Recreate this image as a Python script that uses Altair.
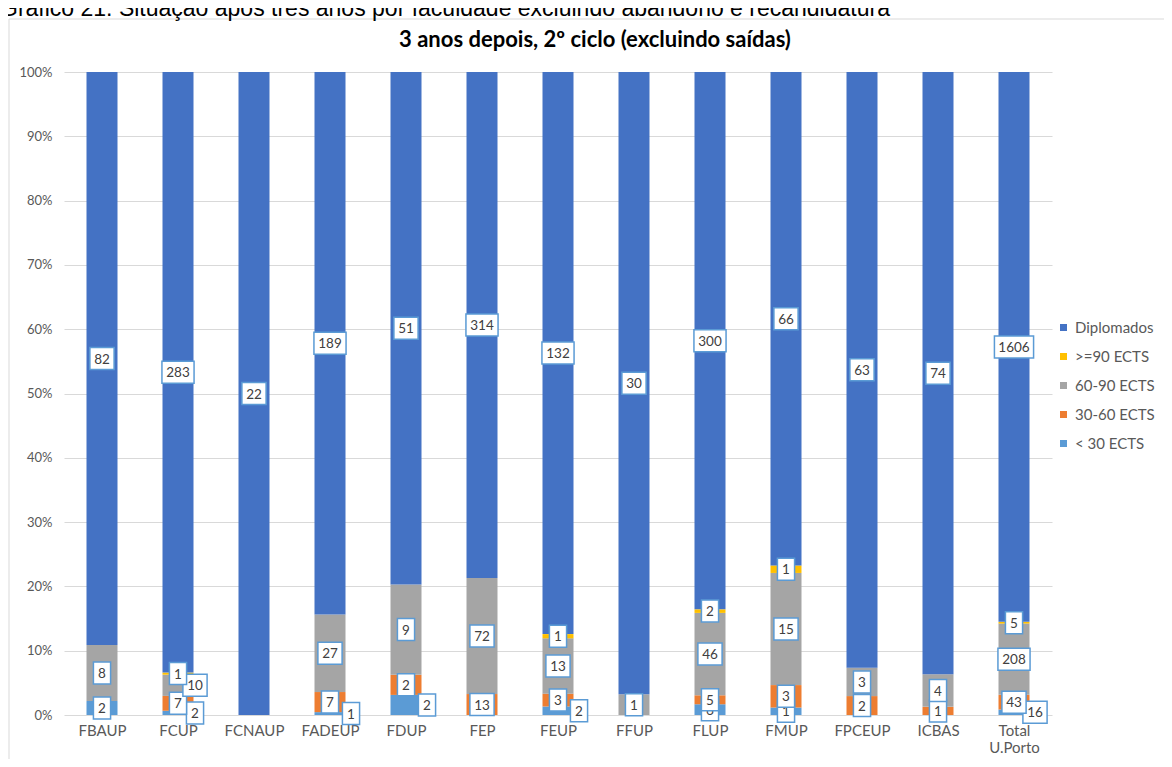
import altair as alt
import pandas as pd

# ---- data ----
faculties = ["FBAUP", "FCUP", "FCNAUP", "FADEUP", "FDUP", "FEP", "FEUP",
             "FFUP", "FLUP", "FMUP", "FPCEUP", "ICBAS", "Total U.Porto"]
diplomados = [82, 283, 22, 189, 51, 314, 132, 30, 300, 66, 63, 74, 1606]
ects_90_plus = [0, 1, 0, 0, 0, 0, 1, 0, 2, 1, 0, 0, 5]
ects_60_90 = [8, 10, 0, 27, 9, 72, 13, 1, 46, 15, 3, 4, 208]
ects_30_60 = [0, 7, 0, 7, 2, 13, 3, 0, 5, 3, 2, 1, 43]
ects_lt_30 = [2, 2, 0, 1, 2, 0, 2, 0, 6, 1, 0, 0, 16]

# stacking order bottom -> top
series_names = ["< 30 ECTS", "30-60 ECTS", "60-90 ECTS", ">=90 ECTS", "Diplomados"]
series_values = [ects_lt_30, ects_30_60, ects_60_90, ects_90_plus, diplomados]
series_colors = ["#5B9BD5", "#ED7D31", "#A5A5A5", "#FFC000", "#4472C4"]

outer_title = "Gráfico 21: Situação após três anos por faculdade excluindo abandono e recandidatura"
chart_title = "3 anos depois, 2º ciclo (excluindo saídas)"

# labels that Excel pushed sideways (pixels to the right)
label_nudges = {("FCUP", "60-90 ECTS"): 17, ("FCUP", "< 30 ECTS"): 17,
                ("FADEUP", "< 30 ECTS"): 21, ("FDUP", "< 30 ECTS"): 21,
                ("FEUP", "< 30 ECTS"): 21, ("Total U.Porto", "< 30 ECTS"): 21}

rows = []
for k, (name, vals) in enumerate(zip(series_names, series_values)):
    for i, fac in enumerate(faculties):
        rows.append({"faculty": fac, "xi": i, "series": name, "order": k,
                     "value": vals[i], "nudge": label_nudges.get((fac, name), 0)})
df = pd.DataFrame(rows)

W, H = 988, 643
PX_PER_UNIT = W / len(faculties)
FONT = "Lato"

label_js = "[" + ",".join(
    "['Total','U.Porto']" if f == "Total U.Porto" else "'" + f + "'" for f in faculties
) + "]"

xscale = alt.Scale(domain=[-0.5, len(faculties) - 0.5], nice=False, zero=False, padding=0)
yscale = alt.Scale(domain=[0, 1], nice=False)

xaxis = alt.Axis(values=list(range(len(faculties))), labelExpr=label_js + "[datum.value]",
                 title=None, grid=False, ticks=False, domain=False, labelFont=FONT,
                 labelFontSize=15, labelColor="#595959", labelPadding=8,
                 labelLineHeight=17, labelBaseline="top")
yaxis = alt.Axis(values=[i / 10 for i in range(11)], format=".0%", title=None,
                 ticks=False, domain=False, grid=True, gridColor="#D9D9D9",
                 gridWidth=1, labelFont=FONT, labelFontSize=13,
                 labelColor="#595959", labelPadding=12)

base = (alt.Chart(df)
        .transform_joinaggregate(total="sum(value)", groupby=["faculty"])
        .transform_calculate(pct="datum.value / datum.total")
        .transform_stack(stack="pct", groupby=["faculty"],
                         sort=[alt.SortField("order")], as_=["y0", "y1"])
        .transform_calculate(mid="(datum.y0 + datum.y1) / 2",
                             xl="datum.xi + datum.nudge / %f" % PX_PER_UNIT,
                             digits="length(toString(datum.value))"))

legend_order = list(reversed(series_names))
legend_colors = list(reversed(series_colors))

bars = base.mark_bar(size=31).encode(
    x=alt.X("xi:Q", scale=xscale, axis=xaxis),
    y=alt.Y("y0:Q", scale=yscale, axis=yaxis),
    y2="y1:Q",
    color=alt.Color("series:N",
                    scale=alt.Scale(domain=legend_order, range=legend_colors),
                    legend=alt.Legend(orient="none", legendX=992, legendY=248,
                                      title=None, symbolType="square",
                                      symbolSize=49, symbolStrokeWidth=0,
                                      labelFont=FONT, labelFontSize=15,
                                      labelColor="#595959", rowPadding=13,
                                      labelOffset=4)),
)

# box shapes for 1..4 digit labels (unit = 11px with size 484)
half_w = {1: 0.78, 2: 1.1, 3: 1.46, 4: 1.78}
paths = ["M-%.2f,-1H%.2fV1H-%.2fZ" % (half_w[d], half_w[d], half_w[d]) for d in (1, 2, 3, 4)]

layers = [bars]
for name in series_names:
    sub = base.transform_filter(
        (alt.datum.series == name) & (alt.datum.value > 0))
    box = sub.mark_point(filled=True, fill="white", stroke="#5B9BD5",
                         strokeWidth=1.5, size=484, opacity=1).encode(
        x=alt.X("xl:Q", scale=xscale),
        y=alt.Y("mid:Q", scale=yscale),
        shape=alt.Shape("digits:N", scale=alt.Scale(domain=[1, 2, 3, 4], range=paths),
                        legend=None),
    )
    txt = sub.mark_text(font=FONT, fontSize=13.5, color="#404040",
                        baseline="middle", dy=1).encode(
        x=alt.X("xl:Q", scale=xscale),
        y=alt.Y("mid:Q", scale=yscale),
        text="value:Q",
    )
    layers += [box, txt]

frame = alt.Chart(pd.DataFrame({"k": [0]})).mark_rect(
    fill="white", fillOpacity=0, stroke="#D9D9D9", strokeWidth=1).encode(
    x=alt.value(-55), x2=alt.value(1172 - 64 + 10),
    y=alt.value(-53), y2=alt.value(767 - 72 + 10))

title_inner = alt.Chart(pd.DataFrame({"t": [chart_title]})).mark_text(
    font=FONT, fontSize=22, fontWeight="bold", color="#000000",
    align="center", baseline="middle").encode(
    text="t:N", x=alt.value(595 - 64), y=alt.value(40 - 72))

title_outer = alt.Chart(pd.DataFrame({"t": [outer_title]})).mark_text(
    font="Liberation Sans", fontSize=23, color="#000000",
    align="left", baseline="alphabetic").encode(
    text="t:N", x=alt.value(0 - 64), y=alt.value(16 - 72))

chart = alt.layer(frame, *layers, title_inner, title_outer).properties(
    width=W, height=H,
    autosize=alt.AutoSizeParams(type="none"),
    padding={"left": 56, "top": 64, "right": 112, "bottom": 44},
).configure_view(stroke=None)

chart.save("out.html", embed_options={"renderer": "svg", "actions": False})
